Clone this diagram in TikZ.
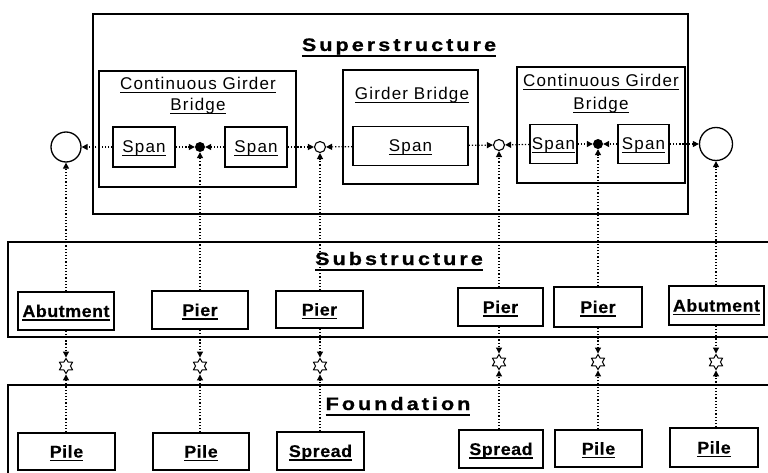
\documentclass[tikz,border=0pt]{standalone}
\usepackage{graphicx}
\usepackage{fontspec}
\setmainfont{Liberation Sans}
\newfontfamily\headfont[LetterSpace=14,FakeBold=0.8]{Liberation Sans Bold}
\newfontfamily\lblfont[LetterSpace=7]{Liberation Sans}
\newfontfamily\boldlblfont[LetterSpace=3,FakeBold=0.5]{Liberation Sans Bold}
\usetikzlibrary{arrows.meta,shapes.geometric}

% underlined text: #1 rule thickness, #2 rule bottom below baseline, #3 text
\newcommand\uln[3]{\setbox0=\hbox{#3}\rlap{\smash{\rule[-#2]{\wd0}{#1}}}\box0}
% wide heading text
\newcommand\headtxt[1]{\uln{2.2pt}{6pt}{\scalebox{1.2}[1]{#1}}}
% wide part label
\newcommand\parttxt[1]{\uln{1.8pt}{3.8pt}{\scalebox{1.05}[1]{#1}}}

\tikzset{
  frame/.style={draw, line width=1.3pt, inner sep=0pt},
  box/.style={draw, line width=1.2pt, inner sep=0pt, text height=12pt, text depth=0pt},
  headlbl/.style={inner sep=0pt, font=\headfont\fontsize{18}{21}\selectfont},
  thinlbl/.style={inner sep=0pt, font=\lblfont\fontsize{17}{20}\selectfont},
  spanbox/.style={box, font=\lblfont\fontsize{17}{20}\selectfont},
  partbox/.style={box, font=\boldlblfont\fontsize{17}{20}\selectfont},
  link/.style={line width=1.2pt, dash pattern=on 1.3pt off 1.9pt,
    -{Triangle[length=6pt,width=6pt]}},
  jfill/.style={circle, fill, inner sep=0pt, minimum size=10pt},
  jhollow/.style={circle, draw, line width=1.1pt, inner sep=0pt, minimum size=11pt},
  jbig/.style={circle, draw, line width=1.3pt, inner sep=0pt},
  hexstar/.style={star, star points=6, star point ratio=1.7, draw, line width=1pt,
    inner sep=0pt, minimum size=15pt},
}

\begin{document}
\begin{tikzpicture}[x=1pt,y=-1pt]
\clip (0,0) rectangle (768,473);
\fill[white] (0,0) rectangle (768,473);

% ---------- superstructure ----------
\node[frame, minimum width=595pt, minimum height=200pt] (sup) at (390.5,114) {};
\node[headlbl, anchor=base] (supT) at (399,51) {\headtxt{Superstructure}};

\node[frame, minimum width=197pt, minimum height=116pt] (cgbL) at (197.5,129) {};
\node[thinlbl, anchor=base] (cgbLa) at (198,90) {\uln{1.3pt}{3.3pt}{Continuous Girder}};
\node[thinlbl, anchor=base] (cgbLb) at (198,111) {\uln{1.3pt}{3.3pt}{Bridge}};

\node[frame, minimum width=135pt, minimum height=114pt] (gb) at (410.5,127) {};
\node[thinlbl, anchor=base] (gbT) at (412,100) {\uln{1.3pt}{3.3pt}{Girder Bridge}};

\node[frame, minimum width=168pt, minimum height=116pt] (cgbR) at (601,125) {};
\node[thinlbl, anchor=base] (cgbRa) at (601,87) {\uln{1.3pt}{3.3pt}{Continuous Girder}};
\node[thinlbl, anchor=base] (cgbRb) at (601,110) {\uln{1.3pt}{3.3pt}{Bridge}};

\node[spanbox, minimum width=62pt, minimum height=40pt] (sL1) at (144,147) {\uln{1.3pt}{3.3pt}{Span}};
\node[spanbox, minimum width=62pt, minimum height=40pt] (sL2) at (256,147) {\uln{1.3pt}{3.3pt}{Span}};
\node[spanbox, minimum width=115pt, minimum height=39pt] (gS) at (410.5,146) {\uln{1.3pt}{3.3pt}{Span}};
\node[spanbox, minimum width=47pt, minimum height=39pt] (sR1) at (553.5,144) {\uln{1.3pt}{3.3pt}{Span}};
\node[spanbox, minimum width=51pt, minimum height=39pt] (sR2) at (643.5,144) {\uln{1.3pt}{3.3pt}{Span}};

% joints
\node[jbig, minimum size=30pt] (bigL) at (66,147) {};
\node[jfill] (fL) at (200,147) {};
\node[jhollow] (hL) at (320,147) {};
\node[jhollow] (h2) at (499,145) {};
\node[jfill] (fR) at (598,144) {};
\node[jbig, minimum size=33pt] (bigR) at (716,144) {};

% ---------- substructure ----------
\node[frame, minimum width=772pt, minimum height=95pt] (sub) at (394,289.5) {};
\node[headlbl, anchor=base] (subT) at (399,265) {\headtxt{Substructure}};

\node[partbox, minimum width=96pt, minimum height=38pt] (abL) at (66,311) {\parttxt{Abutment}};
\node[partbox, minimum width=96pt, minimum height=38pt] (pr1) at (200,310) {\parttxt{Pier}};
\node[partbox, minimum width=87pt, minimum height=37pt] (pr2) at (319.5,309.5) {\parttxt{Pier}};
\node[partbox, minimum width=85pt, minimum height=38pt] (pr3) at (500.5,307) {\parttxt{Pier}};
\node[partbox, minimum width=88pt, minimum height=40pt] (pr4) at (598,307) {\parttxt{Pier}};
\node[partbox, minimum width=95pt, minimum height=39pt] (abR) at (716.5,305.5) {\parttxt{Abutment}};

% ---------- foundation ----------
\node[frame, minimum width=772pt, minimum height=105pt] (fnd) at (394,437.5) {};
\node[headlbl, anchor=base] (fndT) at (398,410) {\headtxt{Foundation}};

\node[partbox, minimum width=97pt, minimum height=37pt] (fo1) at (66.5,451.5) {\parttxt{Pile}};
\node[partbox, minimum width=96pt, minimum height=37pt] (fo2) at (201,451.5) {\parttxt{Pile}};
\node[partbox, minimum width=87pt, minimum height=38pt] (fo3) at (320.5,451) {\parttxt{Spread}};
\node[partbox, minimum width=84pt, minimum height=38pt] (fo4) at (501,449) {\parttxt{Spread}};
\node[partbox, minimum width=87pt, minimum height=37pt] (fo5) at (598.5,448.5) {\parttxt{Pile}};
\node[partbox, minimum width=88pt, minimum height=39pt] (fo6) at (714,447.5) {\parttxt{Pile}};

% interface stars
\node[hexstar] (st1) at (66,366) {};
\node[hexstar] (st2) at (200,366) {};
\node[hexstar] (st3) at (320,366) {};
\node[hexstar] (st4) at (499,362) {};
\node[hexstar] (st5) at (598,362) {};
\node[hexstar] (st6) at (716,362) {};

% ---------- connectors ----------
\draw[link] (sL1) -- (bigL);
\draw[link] (sL1) -- (fL);
\draw[link] (sL2) -- (fL);
\draw[link] (sL2) -- (hL);
\draw[link] (gS) -- (hL);
\draw[link] (gS) -- (h2);
\draw[link] (sR1) -- (h2);
\draw[link] (sR1) -- (fR);
\draw[link] (sR2) -- (fR);
\draw[link] (sR2) -- (bigR);

\draw[link] (abL.north -| bigL) -- (bigL);
\draw[link] (pr1.north -| fL) -- (fL);
\draw[link] (pr2.north -| hL) -- (hL);
\draw[link] (pr3.north -| h2) -- (h2);
\draw[link] (pr4.north -| fR) -- (fR);
\draw[link] (abR.north -| bigR) -- (bigR);

\draw[link] (abL.south -| st1) -- (st1);
\draw[link] (pr1.south -| st2) -- (st2);
\draw[link] (pr2.south -| st3) -- (st3);
\draw[link] (pr3.south -| st4) -- (st4);
\draw[link] (pr4.south -| st5) -- (st5);
\draw[link] (abR.south -| st6) -- (st6);

\draw[link] (fo1.north -| st1) -- (st1);
\draw[link] (fo2.north -| st2) -- (st2);
\draw[link] (fo3.north -| st3) -- (st3);
\draw[link] (fo4.north -| st4) -- (st4);
\draw[link] (fo5.north -| st5) -- (st5);
\draw[link] (fo6.north -| st6) -- (st6);
\end{tikzpicture}
\end{document}
